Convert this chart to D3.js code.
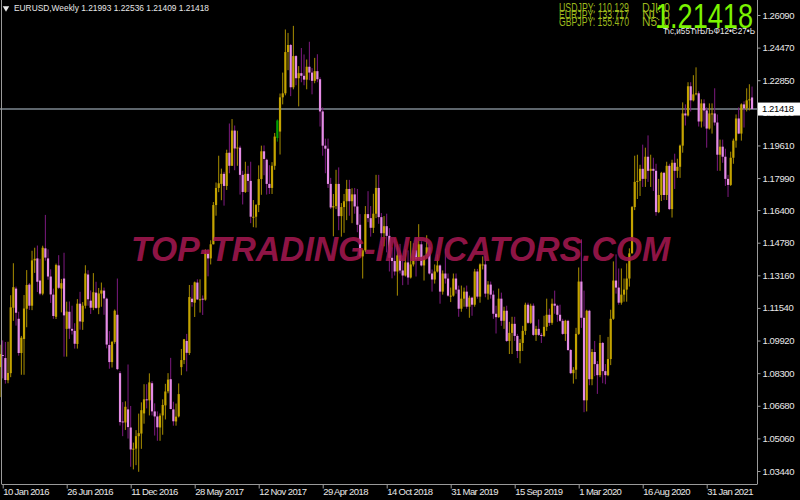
<!doctype html>
<html>
<head>
<style>
  body { margin: 0; background: #000; }
  svg { display: block; }
</style>
<script src="https://d3js.org/d3.v7.min.js"></script>
</head>
<body>
<svg id="chart" width="800" height="500"></svg>
<script>
// EURUSD weekly candles [open, high, low, close]
// one array per year, weeks follow each other from firstWeek (Sunday start)
var firstWeek = "2016-01-03";

var bars2016 = [
  [1.0860,1.0971,1.0711,1.0925],[1.0920,1.0993,1.0804,1.0916],[1.0905,1.0985,1.0778,1.0796],[1.0795,1.0986,1.0780,1.0831],
  [1.0830,1.1217,1.0810,1.1157],[1.1155,1.1376,1.1090,1.1257],[1.1250,1.1260,1.1066,1.1130],[1.1100,1.1135,1.0917,1.0930],
  [1.0930,1.1015,1.0822,1.1006],[1.1000,1.1218,1.0822,1.1151],[1.1150,1.1342,1.1058,1.1268],[1.1270,1.1278,1.1144,1.1165],
  [1.1165,1.1438,1.1143,1.1390],[1.1390,1.1453,1.1328,1.1398],[1.1400,1.1464,1.1233,1.1284],[1.1290,1.1398,1.1217,1.1225],
  [1.1225,1.1463,1.1217,1.1453],[1.1450,1.1616,1.1389,1.1404],[1.1400,1.1445,1.1294,1.1310],[1.1310,1.1346,1.1179,1.1221],
  [1.1220,1.1250,1.1100,1.1114],[1.1110,1.1374,1.1099,1.1367],[1.1365,1.1416,1.1248,1.1254],[1.1250,1.1298,1.1132,1.1277],
  [1.1300,1.1428,1.0912,1.1117],[1.1050,1.1185,1.0912,1.1136],[1.1135,1.1186,1.1000,1.1051],[1.1050,1.1165,1.1022,1.1041],
  [1.1040,1.1078,1.0952,1.0976],[1.0975,1.1198,1.0952,1.1175],[1.1175,1.1234,1.1046,1.1087],[1.1085,1.1183,1.1045,1.1165],
  [1.1165,1.1366,1.1151,1.1325],[1.1320,1.1341,1.1165,1.1197],[1.1190,1.1241,1.1124,1.1155],[1.1155,1.1327,1.1143,1.1232],
  [1.1230,1.1284,1.1149,1.1154],[1.1155,1.1253,1.1123,1.1226],[1.1225,1.1280,1.1160,1.1241],[1.1240,1.1255,1.1120,1.1201],
  [1.1200,1.1205,1.0953,1.0972],[1.0970,1.1039,1.0852,1.0885],[1.0885,1.0990,1.0858,1.0985],[1.0985,1.1146,1.0976,1.1140],
  [1.1120,1.1300,1.0845,1.0850],[1.0830,1.0840,1.0570,1.0587],[1.0590,1.0686,1.0517,1.0589],[1.0585,1.0690,1.0548,1.0663],
  [1.0650,1.0873,1.0505,1.0562],[1.0560,1.0667,1.0365,1.0451],[1.0450,1.0485,1.0352,1.0455],[1.0455,1.0547,1.0373,1.0517]
];
var bars2017 = [
  [1.0517,1.0629,1.0340,1.0532],[1.0530,1.0685,1.0454,1.0646],[1.0630,1.0775,1.0579,1.0700],[1.0700,1.0775,1.0655,1.0698],
  [1.0695,1.0829,1.0620,1.0784],[1.0780,1.0790,1.0620,1.0640],[1.0640,1.0680,1.0520,1.0615],[1.0615,1.0640,1.0494,1.0561],
  [1.0560,1.0630,1.0494,1.0619],[1.0620,1.0700,1.0524,1.0672],[1.0670,1.0777,1.0600,1.0739],[1.0740,1.0830,1.0730,1.0798],
  [1.0800,1.0906,1.0650,1.0652],[1.0650,1.0688,1.0569,1.0591],[1.0590,1.0679,1.0569,1.0614],[1.0615,1.0779,1.0610,1.0726],
  [1.0860,1.0950,1.0820,1.0895],[1.0895,1.1000,1.0875,1.0998],[1.0990,1.1025,1.0839,1.0931],[1.0930,1.1268,1.0920,1.1208],
  [1.1200,1.1268,1.1160,1.1183],[1.1180,1.1285,1.1109,1.1281],[1.1280,1.1296,1.1195,1.1196],[1.1195,1.1296,1.1131,1.1197],
  [1.1200,1.1216,1.1119,1.1195],[1.1195,1.1445,1.1190,1.1425],[1.1425,1.1445,1.1311,1.1400],[1.1400,1.1490,1.1370,1.1470],
  [1.1470,1.1680,1.1470,1.1665],[1.1665,1.1777,1.1612,1.1750],[1.1750,1.1910,1.1729,1.1773],[1.1770,1.1846,1.1689,1.1820],
  [1.1820,1.1830,1.1662,1.1760],[1.1760,1.1940,1.1740,1.1924],[1.1925,1.2070,1.1823,1.1860],[1.1860,1.2092,1.1860,1.2035],
  [1.2035,1.2060,1.1838,1.1946],[1.1946,1.2034,1.1860,1.1951],[1.1950,1.1960,1.1717,1.1815],[1.1815,1.1835,1.1668,1.1730],
  [1.1730,1.1880,1.1725,1.1820],[1.1820,1.1860,1.1730,1.1785],[1.1785,1.1880,1.1575,1.1607],[1.1607,1.1690,1.1555,1.1607],
  [1.1607,1.1670,1.1553,1.1665],[1.1665,1.1862,1.1630,1.1794],[1.1794,1.1960,1.1716,1.1932],[1.1932,1.1961,1.1813,1.1894],
  [1.1890,1.1895,1.1717,1.1770],[1.1770,1.1863,1.1720,1.1750],[1.1750,1.1878,1.1720,1.1860],[1.1860,1.2023,1.1840,1.2005]
];
var bars2018 = [
  [1.1998,1.2090,1.1980,1.2085],[1.2030,1.2219,1.1916,1.2200],[1.2200,1.2323,1.2165,1.2220],[1.2220,1.2537,1.2210,1.2425],
  [1.2425,1.2520,1.2335,1.2460],[1.2460,1.2465,1.2206,1.2250],[1.2250,1.2555,1.2240,1.2405],[1.2405,1.2410,1.2260,1.2295],
  [1.2295,1.2355,1.2155,1.2320],[1.2320,1.2445,1.2275,1.2307],[1.2307,1.2413,1.2260,1.2288],[1.2288,1.2388,1.2240,1.2352],
  [1.2352,1.2476,1.2285,1.2323],[1.2323,1.2345,1.2215,1.2282],[1.2282,1.2396,1.2270,1.2330],[1.2330,1.2414,1.2275,1.2290],
  [1.2290,1.2300,1.2055,1.2130],[1.2130,1.2150,1.1910,1.1960],[1.1960,1.1995,1.1823,1.1945],[1.1945,1.1995,1.1750,1.1770],
  [1.1770,1.1800,1.1645,1.1653],[1.1653,1.1720,1.1510,1.1660],[1.1660,1.1840,1.1645,1.1770],[1.1770,1.1852,1.1540,1.1610],
  [1.1610,1.1675,1.1508,1.1655],[1.1655,1.1720,1.1527,1.1684],[1.1684,1.1790,1.1590,1.1745],[1.1745,1.1790,1.1612,1.1684],
  [1.1684,1.1748,1.1575,1.1718],[1.1718,1.1750,1.1622,1.1658],[1.1658,1.1745,1.1530,1.1567],[1.1567,1.1620,1.1405,1.1410],
  [1.1410,1.1445,1.1300,1.1440],[1.1440,1.1660,1.1430,1.1620],[1.1620,1.1734,1.1580,1.1600],[1.1600,1.1660,1.1508,1.1552],
  [1.1552,1.1721,1.1526,1.1622],[1.1622,1.1815,1.1600,1.1750],[1.1750,1.1815,1.1572,1.1605],[1.1605,1.1625,1.1463,1.1525],
  [1.1525,1.1610,1.1460,1.1560],[1.1560,1.1622,1.1430,1.1512],[1.1512,1.1550,1.1335,1.1403],[1.1403,1.1455,1.1301,1.1387],
  [1.1387,1.1500,1.1315,1.1335],[1.1335,1.1470,1.1215,1.1415],[1.1415,1.1472,1.1325,1.1340],[1.1340,1.1400,1.1267,1.1315],
  [1.1315,1.1445,1.1310,1.1380],[1.1380,1.1440,1.1269,1.1305],[1.1305,1.1486,1.1300,1.1370],[1.1370,1.1475,1.1360,1.1440]
];
var bars2019 = [
  [1.1440,1.1500,1.1310,1.1395],[1.1395,1.1570,1.1390,1.1470],[1.1470,1.1485,1.1360,1.1365],[1.1365,1.1415,1.1290,1.1410],
  [1.1410,1.1515,1.1400,1.1455],[1.1455,1.1465,1.1320,1.1325],[1.1325,1.1345,1.1235,1.1295],[1.1295,1.1370,1.1275,1.1335],
  [1.1335,1.1420,1.1330,1.1365],[1.1365,1.1370,1.1175,1.1235],[1.1235,1.1340,1.1220,1.1325],[1.1325,1.1448,1.1275,1.1300],
  [1.1300,1.1325,1.1210,1.1215],[1.1215,1.1255,1.1183,1.1215],[1.1215,1.1325,1.1210,1.1300],[1.1300,1.1325,1.1225,1.1245],
  [1.1245,1.1265,1.1110,1.1150],[1.1150,1.1265,1.1135,1.1200],[1.1200,1.1255,1.1160,1.1235],[1.1235,1.1265,1.1150,1.1160],
  [1.1160,1.1215,1.1105,1.1205],[1.1205,1.1210,1.1115,1.1170],[1.1170,1.1348,1.1160,1.1335],[1.1335,1.1348,1.1200,1.1210],
  [1.1210,1.1375,1.1180,1.1370],[1.1370,1.1410,1.1345,1.1370],[1.1370,1.1412,1.1207,1.1225],[1.1225,1.1287,1.1195,1.1270],
  [1.1270,1.1285,1.1200,1.1220],[1.1220,1.1240,1.1100,1.1125],[1.1125,1.1165,1.1027,1.1108],[1.1108,1.1250,1.1105,1.1200],
  [1.1200,1.1230,1.1065,1.1090],[1.1090,1.1160,1.1050,1.1140],[1.1140,1.1165,1.0985,1.0990],[1.0990,1.1085,1.0925,1.1030],
  [1.1030,1.1110,1.0925,1.1075],[1.1075,1.1110,1.0990,1.1015],[1.1015,1.1025,1.0905,1.0940],[1.0940,1.0999,1.0879,1.0980],
  [1.0980,1.1065,1.0940,1.1040],[1.1040,1.1180,1.1020,1.1170],[1.1170,1.1180,1.1075,1.1080],[1.1080,1.1175,1.1075,1.1165],
  [1.1165,1.1176,1.1015,1.1020],[1.1020,1.1065,1.0990,1.1050],[1.1050,1.1097,1.1015,1.1020],[1.1020,1.1030,1.0980,1.1015],
  [1.1015,1.1115,1.1010,1.1060],[1.1060,1.1200,1.1040,1.1120],[1.1120,1.1150,1.1065,1.1080],[1.1080,1.1200,1.1070,1.1175]
];
var bars2020 = [
  [1.1175,1.1240,1.1125,1.1165],[1.1165,1.1170,1.1085,1.1120],[1.1120,1.1170,1.1085,1.1090],[1.1090,1.1100,1.1020,1.1025],
  [1.1025,1.1095,1.0990,1.1090],[1.1090,1.1095,1.0940,1.0945],[1.0945,1.0950,1.0825,1.0830],[1.0830,1.0860,1.0778,1.0847],
  [1.0847,1.1055,1.0800,1.1025],[1.1025,1.1355,1.1020,1.1285],[1.1285,1.1495,1.1055,1.1105],[1.1105,1.1240,1.0636,1.0695],
  [1.0695,1.1145,1.0640,1.1140],[1.1140,1.1145,1.0770,1.0800],[1.0800,1.0950,1.0770,1.0935],[1.0935,1.0990,1.0815,1.0875],
  [1.0875,1.0890,1.0727,1.0820],[1.0820,1.1020,1.0810,1.0980],[1.0980,1.0985,1.0780,1.0840],[1.0840,1.0875,1.0775,1.0820],
  [1.0820,1.1010,1.0815,1.0900],[1.0900,1.1145,1.0870,1.1100],[1.1100,1.1385,1.1095,1.1290],[1.1290,1.1420,1.1225,1.1255],
  [1.1255,1.1350,1.1170,1.1180],[1.1180,1.1350,1.1170,1.1220],[1.1220,1.1300,1.1185,1.1245],[1.1245,1.1375,1.1185,1.1300],
  [1.1300,1.1450,1.1260,1.1425],[1.1425,1.1660,1.1425,1.1655],[1.1655,1.1910,1.1640,1.1780],[1.1780,1.1915,1.1695,1.1785],
  [1.1785,1.1865,1.1710,1.1845],[1.1845,1.1965,1.1755,1.1795],[1.1795,1.1950,1.1755,1.1905],[1.1905,1.2011,1.1780,1.1835],
  [1.1835,1.1915,1.1755,1.1845],[1.1845,1.1900,1.1735,1.1835],[1.1835,1.1870,1.1612,1.1630],[1.1630,1.1795,1.1625,1.1715],
  [1.1715,1.1830,1.1685,1.1825],[1.1825,1.1830,1.1690,1.1715],[1.1715,1.1880,1.1690,1.1860],[1.1860,1.1870,1.1640,1.1645],
  [1.1645,1.1890,1.1603,1.1875],[1.1875,1.1920,1.1745,1.1835],[1.1835,1.1895,1.1800,1.1855],[1.1855,1.1965,1.1800,1.1960],
  [1.1960,1.2175,1.1925,1.2120],[1.2120,1.2165,1.2060,1.2110],[1.2110,1.2275,1.2105,1.2255],[1.2255,1.2275,1.2130,1.2185],
  [1.2185,1.2310,1.2180,1.2215]
];
var bars2021 = [
  [1.2215,1.2349,1.2210,1.2220],[1.2220,1.2230,1.2055,1.2080],[1.2080,1.2190,1.2050,1.2170],[1.2170,1.2190,1.2055,1.2135],
  [1.2135,1.2150,1.1950,1.2045],[1.2045,1.2170,1.2040,1.2120],[1.2120,1.2170,1.2020,1.2120],[1.2120,1.2245,1.2060,1.2075],
  [1.2075,1.2115,1.1835,1.1915],[1.1915,1.1990,1.1835,1.1955],[1.1955,1.1990,1.1875,1.1905],[1.1905,1.1945,1.1760,1.1795],
  [1.1795,1.1815,1.1705,1.1765],[1.1765,1.1930,1.1760,1.1900],[1.1900,1.1995,1.1870,1.1985],[1.1985,1.2115,1.1950,1.2095],
  [1.2095,1.2150,1.2017,1.2020],[1.2020,1.2170,1.1985,1.2165],[1.2165,1.2180,1.2050,1.2145],[1.2145,1.2245,1.2130,1.2185],
  [1.2185,1.2265,1.2135,1.2190],[1.21993,1.22536,1.21409,1.21418]
];

var greenWeeks = ["2017-12-31"];

var priceTicks = [1.26090, 1.24470, 1.22850, 1.21230, 1.19610, 1.17990, 1.16400, 1.14780,
                  1.13160, 1.11540, 1.09920, 1.08300, 1.06680, 1.05060, 1.03440];
var dateTicks = ["2016-01-10", "2016-06-26", "2016-12-11", "2017-05-28", "2017-11-12", "2018-04-29",
                 "2018-10-14", "2019-03-31", "2019-09-15", "2020-03-01", "2020-08-16", "2021-01-31"];

var symbolText = "EURUSD,Weekly  1.21993 1.22536 1.21409 1.21418";
var lastPrice = 1.21418;
var crossRates = ["USDJPY: 110.129", "EURJPY: 133.717", "GBPJPY: 155.470"];
var indexQuotes = ["DJI: 0", "NI: 0", "N5: 0"];
var clockText = "Ћс,и55ЋЊЉФ12•Є27•Ь";
var watermark = "TOP-TRADING-INDICATORS.COM";

// ---------------------------------------------------------------
var svg = d3.select("#chart");
var W = 800, H = 500;
var plotRight = 757, plotBottom = 484;
var parse = d3.utcParse("%Y-%m-%d");
var WEEK = 7 * 864e5;

var all = bars2016.concat(bars2017, bars2018, bars2019, bars2020, bars2021);
var t0 = parse(firstWeek).getTime();
var data = all.map(function (b, i) {
  return { date: new Date(t0 + i * WEEK), o: b[0], h: b[1], l: b[2], c: b[3] };
});
var greenSet = new Set(greenWeeks.map(function (s) { return parse(s).getTime(); }));

var x = d3.scaleUtc()
  .domain([parse(dateTicks[0]), parse(dateTicks[dateTicks.length - 1])])
  .range([2.7, 706.7]);
var y = d3.scaleLinear()
  .domain([priceTicks[priceTicks.length - 1], priceTicks[0]])
  .range([471, 15]);

svg.append("rect").attr("width", W).attr("height", H).attr("fill", "#000");

svg.append("clipPath").attr("id", "plot")
  .append("rect").attr("x", 0).attr("y", 0).attr("width", plotRight).attr("height", plotBottom);

var plot = svg.append("g").attr("clip-path", "url(#plot)");

// last price line
plot.append("line")
  .attr("x1", 0).attr("x2", plotRight)
  .attr("y1", y(lastPrice)).attr("y2", y(lastPrice))
  .attr("stroke", "#7d8790").attr("stroke-width", 1.6);

// candles
var candle = plot.append("g").selectAll("g")
  .data(data)
  .enter().append("g");

function kind(d) {
  if (greenSet.has(d.date.getTime())) return "green";
  return d.c >= d.o ? "bull" : "bear";
}
var wickCol = { bull: "#a88e00", bear: "#7e1a80", green: "#008c00" };
var bodyCol = { bull: "#c4a300", bear: "#e58ce6", green: "#00a000" };

candle.append("line")
  .attr("x1", function (d) { return x(d.date); })
  .attr("x2", function (d) { return x(d.date); })
  .attr("y1", function (d) { return y(d.h); })
  .attr("y2", function (d) { return y(d.l); })
  .attr("stroke", function (d) { return wickCol[kind(d)]; })
  .attr("stroke-width", 1);

candle.append("rect")
  .attr("x", function (d) { return x(d.date) - 1.1; })
  .attr("width", 2.2)
  .attr("y", function (d) { return y(Math.max(d.o, d.c)); })
  .attr("height", function (d) { return Math.max(1, Math.abs(y(d.o) - y(d.c))); })
  .attr("fill", function (d) { return bodyCol[kind(d)]; });

// watermark
svg.append("text")
  .attr("x", 131).attr("y", 261)
  .attr("textLength", 539).attr("lengthAdjust", "spacingAndGlyphs")
  .attr("font-family", "Liberation Sans, Arial, sans-serif")
  .attr("font-weight", "bold").attr("font-style", "italic")
  .attr("font-size", 35)
  .attr("fill", "#a3174f").attr("fill-opacity", 0.9)
  .text(watermark);

// frame
var frame = svg.append("g").attr("stroke", "#9a9a9a").attr("stroke-width", 1).attr("fill", "none");
frame.append("line").attr("x1", 1.5).attr("x2", 1.5).attr("y1", 0).attr("y2", plotBottom);
frame.append("line").attr("x1", plotRight + 0.5).attr("x2", plotRight + 0.5).attr("y1", 0).attr("y2", plotBottom);
frame.append("line").attr("x1", 1.5).attr("x2", plotRight + 0.5).attr("y1", plotBottom + 0.5).attr("y2", plotBottom + 0.5);

var axisFont = "Liberation Sans, Arial, sans-serif";

// price axis
var yAxis = svg.append("g")
  .attr("transform", "translate(" + (plotRight + 0.5) + ",0)")
  .call(d3.axisRight(y).tickValues(priceTicks).tickSize(3).tickFormat(d3.format(".5f")));
yAxis.select(".domain").remove();
yAxis.selectAll("line").attr("stroke", "#9a9a9a");
yAxis.selectAll("text")
  .attr("x", 5)
  .attr("fill", "#e8e8e8")
  .attr("font-family", axisFont).attr("font-size", 9.5)
  .attr("letter-spacing", -0.4);

// time axis
var xAxis = svg.append("g")
  .attr("transform", "translate(0," + (plotBottom + 0.5) + ")")
  .call(d3.axisBottom(x).tickValues(dateTicks.map(parse)).tickSize(4)
    .tickFormat(d3.utcFormat("%-d %b %Y")));
xAxis.select(".domain").remove();
xAxis.selectAll("line").attr("stroke", "#9a9a9a");
xAxis.selectAll("text")
  .attr("text-anchor", "start")
  .attr("x", 0).attr("y", 4).attr("dy", "0.71em")
  .attr("fill", "#e8e8e8")
  .attr("font-family", axisFont).attr("font-size", 9.5)
  .attr("letter-spacing", -0.6);

// last price tag on the axis
svg.append("rect")
  .attr("x", plotRight + 1).attr("y", y(lastPrice) - 6.5)
  .attr("width", 42).attr("height", 13)
  .attr("fill", "#ffffff");
svg.append("text")
  .attr("x", plotRight + 5).attr("y", y(lastPrice)).attr("dy", "0.35em")
  .attr("fill", "#000").attr("font-family", axisFont).attr("font-size", 9.5)
  .attr("letter-spacing", -0.4)
  .text(d3.format(".5f")(lastPrice));

// top-left symbol line
svg.append("path")
  .attr("d", d3.symbol().type(d3.symbolTriangle).size(18)())
  .attr("transform", "translate(6,8) rotate(180)")
  .attr("fill", "#e8e8e8");
svg.append("text")
  .attr("x", 14).attr("y", 11)
  .attr("textLength", 195).attr("lengthAdjust", "spacingAndGlyphs")
  .attr("fill", "#e8e8e8").attr("font-family", axisFont).attr("font-size", 9.5)
  .text(symbolText);

// top-right info panel (rows overlap as in the terminal)
svg.append("g").selectAll("text")
  .data(crossRates).enter().append("text")
  .attr("x", 559).attr("y", function (d, i) { return 12 + i * 6.8; })
  .attr("textLength", 70).attr("lengthAdjust", "spacingAndGlyphs")
  .attr("fill", "#9cb81c").attr("font-family", axisFont).attr("font-size", 12)
  .text(function (d) { return d; });
svg.append("g").selectAll("text")
  .data(indexQuotes).enter().append("text")
  .attr("x", 642).attr("y", function (d, i) { return 12 + i * 6.8; })
  .attr("textLength", 28).attr("lengthAdjust", "spacingAndGlyphs")
  .attr("fill", "#9cb81c").attr("font-family", axisFont).attr("font-size", 12)
  .text(function (d) { return d; });

svg.append("text")
  .attr("x", 655).attr("y", 28)
  .attr("textLength", 98).attr("lengthAdjust", "spacingAndGlyphs")
  .attr("fill", "#7cf400").attr("font-family", axisFont).attr("font-size", 35)
  .text(d3.format(".5f")(lastPrice));

svg.append("text")
  .attr("x", 663).attr("y", 34)
  .attr("textLength", 92).attr("lengthAdjust", "spacingAndGlyphs")
  .attr("fill", "#e8e8e8").attr("font-family", axisFont).attr("font-size", 9)
  .text(clockText);
</script>
</body>
</html>
